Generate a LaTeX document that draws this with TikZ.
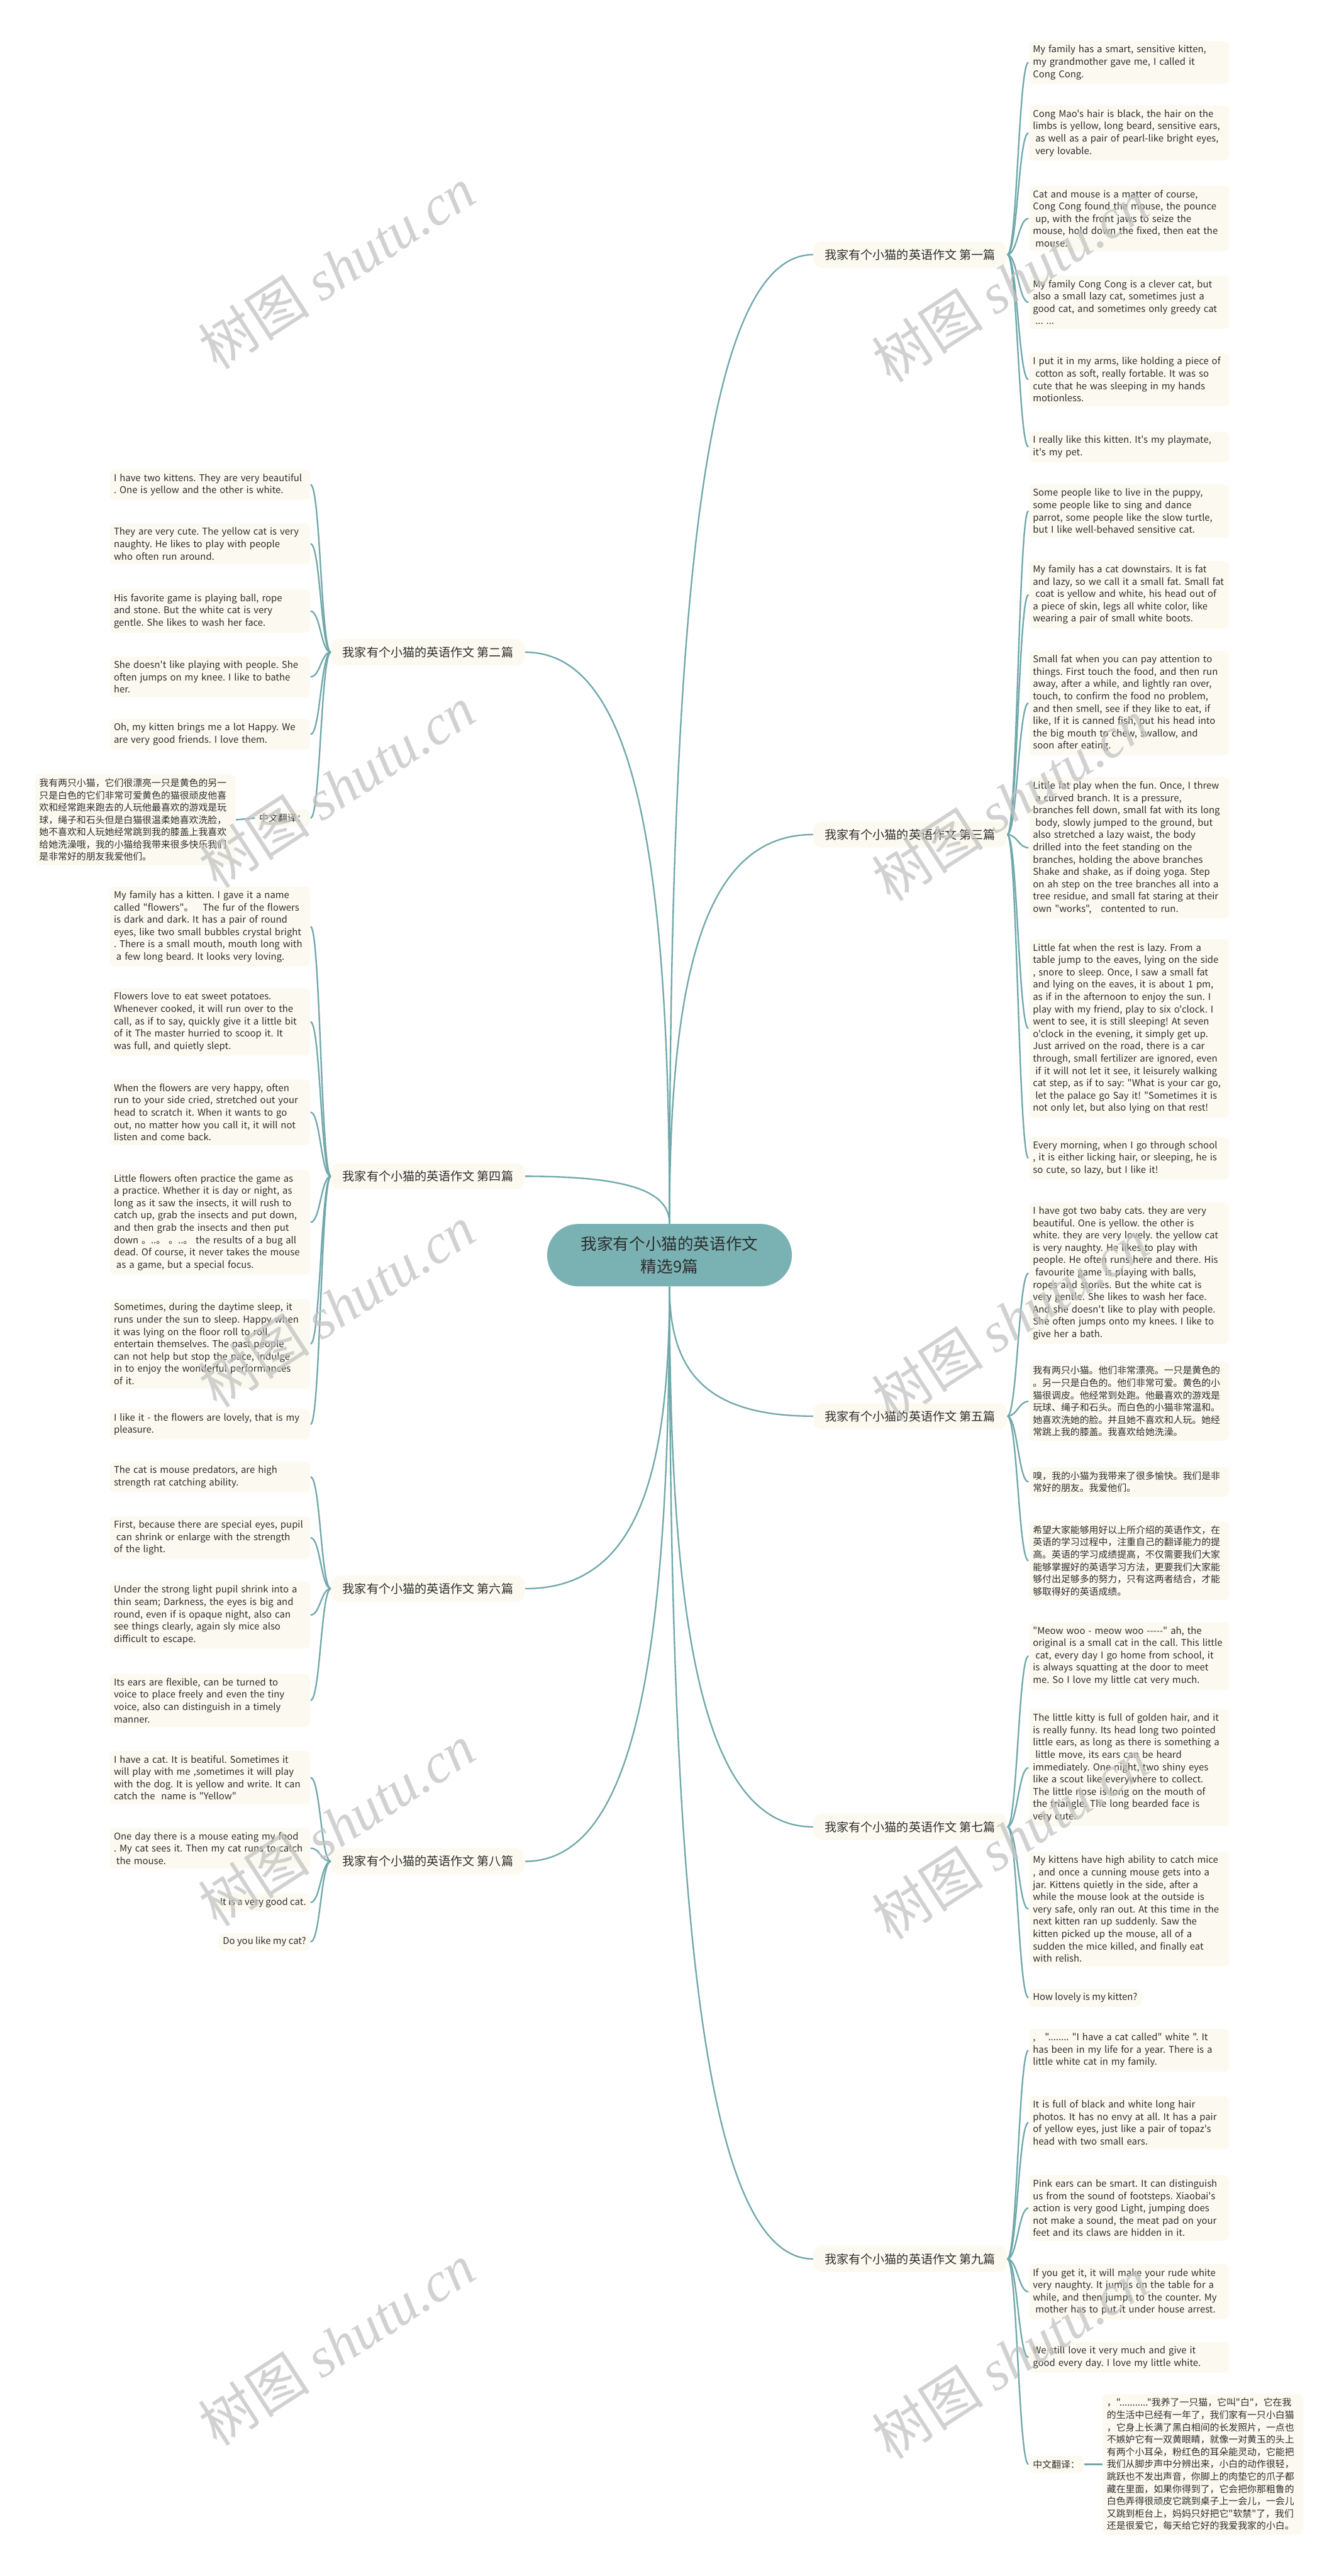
\documentclass[tikz,border=0pt]{standalone}
\usepackage{fontspec}
\newfontfamily\mf{Noto Sans CJK SC}
\newfontfamily\wmserif{Liberation Serif}
\usetikzlibrary{backgrounds}
\definecolor{brc}{RGB}{112,168,170}
\definecolor{ctrfill}{RGB}{122,178,180}
\definecolor{cream}{RGB}{252,250,240}
\definecolor{txt}{RGB}{45,45,45}
\newcommand{\leaffont}{\mf\fontsize{5.7}{7.5}\selectfont\frenchspacing\hyphenpenalty10000\relax\exhyphenpenalty10000\relax}
\tikzset{
  br/.style={draw=brc, line width=0.9pt},
  leafbase/.style={fill=cream, rounded corners=3pt, inner xsep=2.5pt, inner ysep=2.6pt, align=left, font=\leaffont, text=txt},
  leaf/.style={leafbase, text width=117pt},
  sleaf/.style={leafbase},
  lab/.style={fill=cream, rounded corners=5pt, inner xsep=7pt, minimum height=16pt, font=\mf\fontsize{7.3}{9}\selectfont, text=txt},
  ctr/.style={fill=ctrfill, rounded corners=19pt, minimum width=149pt, minimum height=38pt, align=center, font=\mf\fontsize{9.8}{14}\selectfont, text=txt},
  wm/.style={text=black!24, opacity=0.75, rotate=33, font=\mf\fontsize{34}{34}\selectfont}
}
\newcommand{\myrl}[2]{\draw[br] (#1.east) .. controls +(6,0) and +(-6,0) .. (#2.west);}
\newcommand{\myll}[2]{\draw[br] (#1.west) .. controls +(-6,0) and +(6,0) .. (#2.east);}
\begin{document}
\begin{tikzpicture}[x=1pt,y=-1pt]
\useasboundingbox (0,0) rectangle (815,1568);
% ---------- nodes ----------
\node[ctr] (c) at (407.5,764) {我家有个小猫的英语作文\\精选9篇};
\node[lab] (b1) at (554,155) {我家有个小猫的英语作文 第一篇};
\node[lab] (b3) at (554,508) {我家有个小猫的英语作文 第三篇};
\node[lab] (b5) at (554,862) {我家有个小猫的英语作文 第五篇};
\node[lab] (b7) at (554,1112) {我家有个小猫的英语作文 第七篇};
\node[lab] (b9) at (554,1375) {我家有个小猫的英语作文 第九篇};
\node[lab] (b2) at (260.5,397) {我家有个小猫的英语作文 第二篇};
\node[lab] (b4) at (260.5,716) {我家有个小猫的英语作文 第四篇};
\node[lab] (b6) at (260.5,967) {我家有个小猫的英语作文 第六篇};
\node[lab] (b8) at (260.5,1133) {我家有个小猫的英语作文 第八篇};
% right 1
\node[leaf,anchor=west] (r1a) at (626,38) {My family has a smart, sensitive kitten,\\my grandmother gave me, I called it\\Cong Cong.};
\node[leaf,anchor=west] (r1b) at (626,81) {Cong Mao's hair is black, the hair on the\\limbs is yellow, long beard, sensitive ears,\\\hspace*{1.5pt}as well as a pair of pearl-like bright eyes,\\\hspace*{1.5pt}very lovable.};
\node[leaf,anchor=west] (r1c) at (626,133) {Cat and mouse is a matter of course,\\Cong Cong found the mouse, the pounce\\\hspace*{1.5pt}up, with the front jaws to seize the\\mouse, hold down the fixed, then eat the\\\hspace*{1.5pt}mouse.};
\node[leaf,anchor=west] (r1d) at (626,184) {My family Cong Cong is a clever cat, but\\also a small lazy cat, sometimes just a\\good cat, and sometimes only greedy cat\\\hspace*{1.5pt}... ...};
\node[leaf,anchor=west] (r1e) at (626,231) {I put it in my arms, like holding a piece of\\\hspace*{1.5pt}cotton as soft, really fortable. It was so\\cute that he was sleeping in my hands\\motionless.};
\node[leaf,anchor=west] (r1f) at (626,272) {I really like this kitten. It's my playmate,\\it's my pet.};
% right 3
\node[leaf,anchor=west] (r3a) at (626,311) {Some people like to live in the puppy,\\some people like to sing and dance\\parrot, some people like the slow turtle,\\but I like well-behaved sensitive cat.};
\node[leaf,anchor=west] (r3b) at (626,362) {My family has a cat downstairs. It is fat\\and lazy, so we call it a small fat. Small fat\\\hspace*{1.5pt}coat is yellow and white, his head out of\\a piece of skin, legs all white color, like\\wearing a pair of small white boots.};
\node[leaf,anchor=west] (r3c) at (626,428) {Small fat when you can pay attention to\\things. First touch the food, and then run\\away, after a while, and lightly ran over,\\touch, to confirm the food no problem,\\and then smell, see if they like to eat, if\\like, If it is canned fish, put his head into\\the big mouth to chew, swallow, and\\soon after eating.};
\node[leaf,anchor=west] (r3d) at (626,516) {Little fat play when the fun. Once, I threw\\\hspace*{1.5pt}a curved branch. It is a pressure,\\branches fell down, small fat with its long\\\hspace*{1.5pt}body, slowly jumped to the ground, but\\also stretched a lazy waist, the body\\drilled into the feet standing on the\\branches, holding the above branches\\Shake and shake, as if doing yoga. Step\\on ah step on the tree branches all into a\\tree residue, and small fat staring at their\\own "works",\quad contented to run.};
\node[leaf,anchor=west] (r3e) at (626,626) {Little fat when the rest is lazy. From a\\table jump to the eaves, lying on the side\\, snore to sleep. Once, I saw a small fat\\and lying on the eaves, it is about 1 pm,\\as if in the afternoon to enjoy the sun. I\\play with my friend, play to six o'clock. I\\went to see, it is still sleeping! At seven\\o'clock in the evening, it simply get up.\\Just arrived on the road, there is a car\\through, small fertilizer are ignored, even\\\hspace*{1.5pt}if it will not let it see, it leisurely walking\\cat step, as if to say: "What is your car go,\\\hspace*{1.5pt}let the palace go Say it! "Sometimes it is\\not only let, but also lying on that rest!};
\node[leaf,anchor=west] (r3f) at (626,705) {Every morning, when I go through school\\, it is either licking hair, or sleeping, he is\\so cute, so lazy, but I like it!};
% right 5
\node[leaf,anchor=west] (r5a) at (626,775) {I have got two baby cats. they are very\\beautiful. One is yellow. the other is\\white. they are very lovely. the yellow cat\\is very naughty. He likes to play with\\people. He often runs here and there. His\\\hspace*{1.5pt}favourite game is playing with balls,\\ropes and stones. But the white cat is\\very gentle. She likes to wash her face.\\And she doesn't like to play with people.\\She often jumps onto my knees. I like to\\give her a bath.};
\node[leaf,anchor=west] (r5b) at (626,853) {我有两只小猫。他们非常漂亮。一只是黄色的\\。另一只是白色的。他们非常可爱。黄色的小\\猫很调皮。他经常到处跑。他最喜欢的游戏是\\玩球、绳子和石头。而白色的小猫非常温和。\\她喜欢洗她的脸。并且她不喜欢和人玩。她经\\常跳上我的膝盖。我喜欢给她洗澡。};
\node[leaf,anchor=west] (r5c) at (626,902) {嗅，我的小猫为我带来了很多愉快。我们是非\\常好的朋友。我爱他们。};
\node[leaf,anchor=west] (r5d) at (626,950) {希望大家能够用好以上所介绍的英语作文，在\\英语的学习过程中，注重自己的翻译能力的提\\高。英语的学习成绩提高，不仅需要我们大家\\能够掌握好的英语学习方法，更要我们大家能\\够付出足够多的努力，只有这两者结合，才能\\够取得好的英语成绩。};
% right 7
\node[leaf,anchor=west] (r7a) at (626,1008) {"Meow woo - meow woo -----" ah, the\\original is a small cat in the call. This little\\\hspace*{1.5pt}cat, every day I go home from school, it\\is always squatting at the door to meet\\me. So I love my little cat very much.};
\node[leaf,anchor=west] (r7b) at (626,1076) {The little kitty is full of golden hair, and it\\is really funny. Its head long two pointed\\little ears, as long as there is something a\\\hspace*{1.5pt}little move, its ears can be heard\\immediately. One night, two shiny eyes\\like a scout like everywhere to collect.\\The little nose is long on the mouth of\\the triangle. The long bearded face is\\very cute.};
\node[leaf,anchor=west] (r7c) at (626,1162) {My kittens have high ability to catch mice\\, and once a cunning mouse gets into a\\jar. Kittens quietly in the side, after a\\while the mouse look at the outside is\\very safe, only ran out. At this time in the\\next kitten ran up suddenly. Saw the\\kitten picked up the mouse, all of a\\sudden the mice killed, and finally eat\\with relish.};
\node[sleaf,anchor=west] (r7d) at (626,1216) {How lovely is my kitten?};
% right 9
\node[leaf,anchor=west] (r9a) at (626,1248) {,\quad"........ "I have a cat called" white ". It\\has been in my life for a year. There is a\\little white cat in my family.};
\node[leaf,anchor=west] (r9b) at (626,1292) {It is full of black and white long hair\\photos. It has no envy at all. It has a pair\\of yellow eyes, just like a pair of topaz's\\head with two small ears.};
\node[leaf,anchor=west] (r9c) at (626,1344) {Pink ears can be smart. It can distinguish\\us from the sound of footsteps. Xiaobai's\\action is very good Light, jumping does\\not make a sound, the meat pad on your\\feet and its claws are hidden in it.};
\node[leaf,anchor=west] (r9d) at (626,1395) {If you get it, it will make your rude white\\very naughty. It jumps on the table for a\\while, and then jumps to the counter. My\\\hspace*{1.5pt}mother has to put it under house arrest.};
\node[leaf,anchor=west] (r9e) at (626,1435) {We still love it very much and give it\\good every day. I love my little white.};
\node[sleaf,anchor=west] (r9f) at (626,1500) {中文翻译：};
\node[leaf,anchor=west] (r9g) at (671,1500) {，"..........."我养了一只猫，它叫"白"，它在我\\的生活中已经有一年了，我们家有一只小白猫\\，它身上长满了黑白相间的长发照片，一点也\\不嫉妒它有一双黄眼睛，就像一对黄玉的头上\\有两个小耳朵，粉红色的耳朵能灵动，它能把\\我们从脚步声中分辨出来，小白的动作很轻，\\跳跃也不发出声音，你脚上的肉垫它的爪子都\\藏在里面，如果你得到了，它会把你那粗鲁的\\白色弄得很顽皮它跳到桌子上一会儿，一会儿\\又跳到柜台上，妈妈只好把它"软禁"了，我们\\还是很爱它，每天给它好的我爱我家的小白。};
% left 2
\node[leaf,anchor=east] (l2a) at (189,295) {I have two kittens. They are very beautiful\\. One is yellow and the other is white.};
\node[leaf,anchor=east] (l2b) at (189,331) {They are very cute. The yellow cat is very\\naughty. He likes to play with people\\who often run around.};
\node[leaf,anchor=east] (l2c) at (189,372) {His favorite game is playing ball, rope\\and stone. But the white cat is very\\gentle. She likes to wash her face.};
\node[leaf,anchor=east] (l2d) at (189,412) {She doesn't like playing with people. She\\often jumps on my knee. I like to bathe\\her.};
\node[leaf,anchor=east] (l2e) at (189,447) {Oh, my kitten brings me a lot Happy. We\\are very good friends. I love them.};
\node[sleaf,anchor=east] (l2f) at (189,498) {中文翻译：};
\node[leaf,anchor=east] (l2g) at (143.6,499) {我有两只小猫，它们很漂亮一只是黄色的另一\\只是白色的它们非常可爱黄色的猫很顽皮他喜\\欢和经常跑来跑去的人玩他最喜欢的游戏是玩\\球，绳子和石头但是白猫很温柔她喜欢洗脸，\\她不喜欢和人玩她经常跳到我的膝盖上我喜欢\\给她洗澡哦，我的小猫给我带来很多快乐我们\\是非常好的朋友我爱他们。};
% left 4
\node[leaf,anchor=east] (l4a) at (189,564) {My family has a kitten. I gave it a name\\called "flowers"。\quad The fur of the flowers\\is dark and dark. It has a pair of round\\eyes, like two small bubbles crystal bright\\. There is a small mouth, mouth long with\\\hspace*{1.5pt}a few long beard. It looks very loving.};
\node[leaf,anchor=east] (l4b) at (189,622) {Flowers love to eat sweet potatoes.\\Whenever cooked, it will run over to the\\call, as if to say, quickly give it a little bit\\of it The master hurried to scoop it. It\\was full, and quietly slept.};
\node[leaf,anchor=east] (l4c) at (189,677) {When the flowers are very happy, often\\run to your side cried, stretched out your\\head to scratch it. When it wants to go\\out, no matter how you call it, it will not\\listen and come back.};
\node[leaf,anchor=east] (l4d) at (189,744) {Little flowers often practice the game as\\a practice. Whether it is day or night, as\\long as it saw the insects, it will rush to\\catch up, grab the insects and put down,\\and then grab the insects and then put\\down 。..。 。..。 the results of a bug all\\dead. Of course, it never takes the mouse\\\hspace*{1.5pt}as a game, but a special focus.};
\node[leaf,anchor=east] (l4e) at (189,818) {Sometimes, during the daytime sleep, it\\runs under the sun to sleep. Happy when\\it was lying on the floor roll to roll,\\entertain themselves. The past people\\can not help but stop the pace, indulge\\in to enjoy the wonderful performances\\of it.};
\node[leaf,anchor=east] (l4f) at (189,867) {I like it - the flowers are lovely, that is my\\pleasure.};
% left 6
\node[leaf,anchor=east] (l6a) at (189,899) {The cat is mouse predators, are high\\strength rat catching ability.};
\node[leaf,anchor=east] (l6b) at (189,936) {First, because there are special eyes, pupil\\\hspace*{1.5pt}can shrink or enlarge with the strength\\of the light.};
\node[leaf,anchor=east] (l6c) at (189,983) {Under the strong light pupil shrink into a\\thin seam; Darkness, the eyes is big and\\round, even if is opaque night, also can\\see things clearly, again sly mice also\\difficult to escape.};
\node[leaf,anchor=east] (l6d) at (189,1035) {Its ears are flexible, can be turned to\\voice to place freely and even the tiny\\voice, also can distinguish in a timely\\manner.};
% left 8
\node[leaf,anchor=east] (l8a) at (189,1082) {I have a cat. It is beatiful. Sometimes it\\will play with me ,sometimes it will play\\with the dog. It is yellow and write. It can\\catch the\ \ name is "Yellow"};
\node[leaf,anchor=east] (l8b) at (189,1125) {One day there is a mouse eating my food\\. My cat sees it. Then my cat runs to catch\\\hspace*{1.5pt}the mouse.};
\node[sleaf,anchor=east] (l8c) at (189,1158) {It is a very good cat.};
\node[sleaf,anchor=east] (l8d) at (189,1182) {Do you like my cat?};
% ---------- connectors ----------
\begin{scope}[on background layer]
\draw[br] (c.north) .. controls (407.5,361.5) and (429.1,155) .. (b1.west);
\draw[br] (c.north) .. controls (407.5,591) and (429.1,508) .. (b3.west);
\draw[br] (c.south) .. controls (407.5,834.4) and (429.1,862) .. (b5.west);
\draw[br] (c.south) .. controls (407.5,996.9) and (429.1,1112) .. (b7.west);
\draw[br] (c.south) .. controls (407.5,1167.8) and (429.1,1375) .. (b9.west);
\draw[br] (c.north) .. controls (407.5,518.8) and (385.9,397) .. (b2.east);
\draw[br] (c.north) .. controls (407.5,726.2) and (385.9,716) .. (b4.east);
\draw[br] (c.south) .. controls (407.5,902.6) and (385.9,967) .. (b6.east);
\draw[br] (c.south) .. controls (407.5,1010.5) and (385.9,1133) .. (b8.east);
\foreach \n in {r1a,r1b,r1c,r1d,r1e,r1f} {\myrl{b1}{\n}}
\foreach \n in {r3a,r3b,r3c,r3d,r3e,r3f} {\myrl{b3}{\n}}
\foreach \n in {r5a,r5b,r5c,r5d} {\myrl{b5}{\n}}
\foreach \n in {r7a,r7b,r7c,r7d} {\myrl{b7}{\n}}
\foreach \n in {r9a,r9b,r9c,r9d,r9e,r9f} {\myrl{b9}{\n}}
\foreach \n in {l2a,l2b,l2c,l2d,l2e,l2f} {\myll{b2}{\n}}
\foreach \n in {l4a,l4b,l4c,l4d,l4e,l4f} {\myll{b4}{\n}}
\foreach \n in {l6a,l6b,l6c,l6d} {\myll{b6}{\n}}
\foreach \n in {l8a,l8b,l8c,l8d} {\myll{b8}{\n}}
\draw[br] (r9f.east) -- (r9g.west);
\draw[br] (l2f.west) -- (l2g.east);
\end{scope}
% ---------- watermarks ----------
\foreach \y in {163,479,795,1111,1427} {
  \node[wm] (wl\y) at (205,\y) {树图 {\wmserif\itshape shutu.cn}};
  \node[wm] (wr\y) at (615,\y+8) {树图 {\wmserif\itshape shutu.cn}};
}
\end{tikzpicture}
\end{document}
